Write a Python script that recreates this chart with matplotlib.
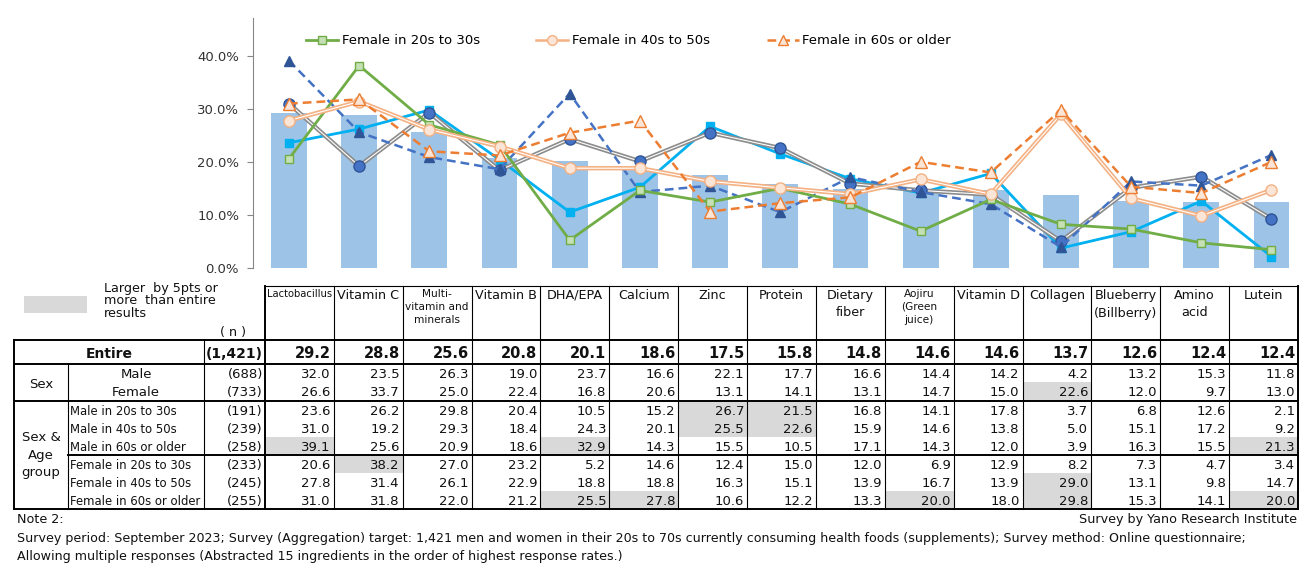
import matplotlib
matplotlib.use('Agg')
import matplotlib.pyplot as plt
from matplotlib.lines import Line2D
from matplotlib.patches import Rectangle
import matplotlib.patheffects as pe
import numpy as np

plt.rcParams['font.family'] = ['DejaVu Sans']

# ---------------- data ----------------
ingredients = ['Lactobacillus', 'Vitamin C', 'Multi-\nvitamin and\nminerals', 'Vitamin B',
               'DHA/EPA', 'Calcium', 'Zinc', 'Protein', 'Dietary\nfiber',
               'Aojiru\n(Green\njuice)', 'Vitamin D', 'Collagen', 'Blueberry\n(Billberry)',
               'Amino\nacid', 'Lutein']
entire = [29.2, 28.8, 25.6, 20.8, 20.1, 18.6, 17.5, 15.8, 14.8, 14.6, 14.6, 13.7, 12.6, 12.4, 12.4]
male = [32.0, 23.5, 26.3, 19.0, 23.7, 16.6, 22.1, 17.7, 16.6, 14.4, 14.2, 4.2, 13.2, 15.3, 11.8]
female = [26.6, 33.7, 25.0, 22.4, 16.8, 20.6, 13.1, 14.1, 13.1, 14.7, 15.0, 22.6, 12.0, 9.7, 13.0]
male_20s_30s = [23.6, 26.2, 29.8, 20.4, 10.5, 15.2, 26.7, 21.5, 16.8, 14.1, 17.8, 3.7, 6.8, 12.6, 2.1]
male_40s_50s = [31.0, 19.2, 29.3, 18.4, 24.3, 20.1, 25.5, 22.6, 15.9, 14.6, 13.8, 5.0, 15.1, 17.2, 9.2]
male_60s_plus = [39.1, 25.6, 20.9, 18.6, 32.9, 14.3, 15.5, 10.5, 17.1, 14.3, 12.0, 3.9, 16.3, 15.5, 21.3]
female_20s_30s = [20.6, 38.2, 27.0, 23.2, 5.2, 14.6, 12.4, 15.0, 12.0, 6.9, 12.9, 8.2, 7.3, 4.7, 3.4]
female_40s_50s = [27.8, 31.4, 26.1, 22.9, 18.8, 18.8, 16.3, 15.1, 13.9, 16.7, 13.9, 29.0, 13.1, 9.8, 14.7]
female_60s_plus = [31.0, 31.8, 22.0, 21.2, 25.5, 27.8, 10.6, 12.2, 13.3, 20.0, 18.0, 29.8, 15.3, 14.1, 20.0]
row_labels = ['Male', 'Female', 'Male in 20s to 30s', 'Male in 40s to 50s', 'Male in 60s or older',
              'Female in 20s to 30s', 'Female in 40s to 50s', 'Female in 60s or older']
sample_sizes = ['(688)', '(733)', '(191)', '(239)', '(258)', '(233)', '(245)', '(255)']
entire_n = '(1,421)'
yticks = [0, 10, 20, 30, 40]

# ---------------- figure ----------------
W, H = 1300, 563
fig = plt.figure(figsize=(W / 100, H / 100), dpi=100)

# overlay for the table (pixel coordinates)
tx = fig.add_axes([0, 0, 1, 1], zorder=0)
tx.set_xlim(0, W)
tx.set_ylim(H, 0)
tx.axis('off')

# chart axes
ax_l, ax_r, ax_b, ax_t = 253, 1300, 267.7, 18
ax = fig.add_axes([ax_l / W, 1 - ax_b / H, (ax_r - ax_l) / W, (ax_b - ax_t) / H], zorder=2)
ax.patch.set_alpha(0)
x = np.arange(len(entire))
ax.bar(x, np.array(entire) / 100, width=0.51, color='#9DC3E6', zorder=1)

ax.plot(x, np.array(male_20s_30s) / 100, color='#00B0F0', lw=2, marker='s', ms=6,
        mfc='#00B0F0', mec='#00B0F0', zorder=3)
ax.plot(x, np.array(male_40s_50s) / 100, color='white', lw=0.8, zorder=3,
        path_effects=[pe.Stroke(linewidth=3.2, foreground='#8C8C8C'), pe.Normal()])
ax.plot(x, np.array(male_40s_50s) / 100, ls='none', marker='o', ms=8,
        mfc='#4472C4', mec='#2F5597', zorder=3)
ax.plot(x, np.array(male_60s_plus) / 100, color='#4472C4', lw=1.8, ls=(0, (3.5, 2)),
        marker='^', ms=7, mfc='#2F5597', mec='#2F5597', zorder=3)
ax.plot(x, np.array(female_20s_30s) / 100, color='#70AD47', lw=2, marker='s', ms=6,
        mfc='#C5E0B4', mec='#70AD47', zorder=4)
ax.plot(x, np.array(female_40s_50s) / 100, color='white', lw=0.8, zorder=4,
        path_effects=[pe.Stroke(linewidth=3.2, foreground='#F4B183'), pe.Normal()])
ax.plot(x, np.array(female_40s_50s) / 100, ls='none', marker='o', ms=8,
        mfc='#FBE5D6', mec='#F4B183', zorder=4)
ax.plot(x, np.array(female_60s_plus) / 100, color='#ED7D31', lw=1.8, ls=(0, (3.5, 2)),
        marker='^', ms=8, mfc='#FBE5D6', mec='#ED7D31', zorder=4)

step = (1271.5 - 289) / 14
ax.set_xlim(-(289 - ax_l) / step, 14 + (ax_r - 1271.5) / step)
ax.set_ylim(0, (ax_b - ax_t) / (ax_b - 56) * 0.40)
ax.set_yticks([v / 100 for v in yticks])
ax.set_yticklabels([f'{v:.1f}%' for v in yticks], fontsize=9.5)
ax.set_xticks([])
for s in ['top', 'right', 'bottom']:
    ax.spines[s].set_visible(False)
ax.spines['left'].set_color('#868686')
ax.tick_params(axis='y', colors='#868686', length=4, labelcolor='#333333', pad=6)

# legend (female series only, as in the reference)
handles = [
    Line2D([], [], color='#70AD47', lw=2, marker='s', ms=6, mfc='#C5E0B4', mec='#70AD47'),
    Line2D([], [], color='#F4B183', lw=1.8, marker='o', ms=7, mfc='#FBE5D6', mec='#F4B183'),
    Line2D([], [], color='#ED7D31', lw=1.8, ls=(0, (3.5, 2)), marker='^', ms=7, mfc='#FBE5D6', mec='#ED7D31'),
]
labels = ['Female in 20s to 30s', 'Female in 40s to 50s', 'Female in 60s or older']
fig.legend(handles, labels, loc='center left', bbox_to_anchor=(306 / W, 1 - 41 / H),
           ncol=3, frameon=False, fontsize=9.5, handlelength=2.4, handletextpad=0.3,
           columnspacing=4.3, borderaxespad=0, borderpad=0)

# ---------------- table ----------------
X_L, X_SPLIT, X_NL, X_NR, X_R = 14, 68, 204, 265, 1298
col_w = (X_R - X_NR) / len(entire)
Y_HT, Y_HB, Y_EB, Y_SB, Y_MID, Y_BOT = 286, 340, 364, 401, 455, 509
row_h = 18
row_centers = [373, 391] + [Y_SB + 9 + row_h * k for k in range(3)] + [Y_MID + 9 + row_h * k for k in range(3)]
rows = [male, female, male_20s_30s, male_40s_50s, male_60s_plus,
        female_20s_30s, female_40s_50s, female_60s_plus]
txt = '#111111'
VA = 'center_baseline'

# shading
for r, vals in enumerate(rows):
    for c, v in enumerate(vals):
        if v - entire[c] >= 5:
            tx.add_patch(Rectangle((X_NR + c * col_w, row_centers[r] - row_h / 2), col_w, row_h,
                                   facecolor='#D9D9D9', edgecolor='none', zorder=1))

lwt, lwn = 1.4, 0.8
tx.plot([X_NR, X_R], [Y_HT, Y_HT], color='black', lw=lwn)
for y in [Y_HB, Y_EB, Y_SB, Y_BOT]:
    tx.plot([X_L, X_R], [y, y], color='black', lw=lwt)
tx.plot([X_SPLIT, X_R], [Y_MID, Y_MID], color='black', lw=lwt)
tx.plot([X_L, X_L], [Y_HB, Y_BOT], color='black', lw=lwt)
tx.plot([X_SPLIT, X_SPLIT], [Y_EB, Y_BOT], color='black', lw=lwn)
tx.plot([X_NL, X_NL], [Y_HB, Y_BOT], color='black', lw=lwn)
for k in range(len(entire) + 1):
    xx = X_NR + k * col_w
    tx.plot([xx, xx], [Y_HT, Y_BOT], color='black', lw=lwt if k in (0, len(entire)) else lwn)

# header labels
for c, name in enumerate(ingredients):
    cx = X_NR + (c + 0.5) * col_w
    if name == 'Lactobacillus':
        fs, ls = 7.2, 1.2
    elif name.startswith('Multi') or name.startswith('Aojiru'):
        fs, ls = 7.6, 1.35
    else:
        fs, ls = 9.2, 1.45
    tx.text(cx, 289, name, ha='center', va='top', fontsize=fs, color=txt, linespacing=ls)

tx.text(233, 331, '( n )', ha='center', va=VA, fontsize=9.2, color=txt)
tx.add_patch(Rectangle((24, 296), 63, 17, facecolor='#D9D9D9', edgecolor='none'))
tx.text(104, 301, 'Larger  by 5pts or\nmore  than entire\nresults', ha='left', va='center',
        fontsize=9.2, color=txt, linespacing=0.95)

# Entire row
yc = (Y_HB + Y_EB) / 2
tx.text((X_L + X_NL) / 2, yc, 'Entire', ha='center', va=VA, fontsize=10, fontweight='bold', color=txt)
tx.text(X_NR - 2, yc, entire_n, ha='right', va=VA, fontsize=10, fontweight='bold', color=txt)
for c, v in enumerate(entire):
    tx.text(X_NR + (c + 1) * col_w - 3, yc, f'{v:.1f}', ha='right', va=VA,
            fontsize=10.5, fontweight='bold', color=txt)

# group labels
tx.text((X_L + X_SPLIT) / 2, (Y_EB + Y_SB) / 2, 'Sex', ha='center', va=VA, fontsize=9.5, color=txt)
tx.text((X_L + X_SPLIT) / 2, Y_MID, 'Sex &\nAge\ngroup', ha='center', va='center', fontsize=9.5,
        color=txt, linespacing=1.45)

for r, vals in enumerate(rows):
    yc = row_centers[r]
    if r < 2:
        tx.text((X_SPLIT + X_NL) / 2, yc, row_labels[r], ha='center', va=VA, fontsize=9.5, color=txt)
    else:
        tx.text(X_SPLIT + 2, yc, row_labels[r], ha='left', va=VA, fontsize=8.4, color=txt)
    tx.text(X_NR - 2, yc, sample_sizes[r], ha='right', va=VA, fontsize=9.5, color=txt)
    for c, v in enumerate(vals):
        tx.text(X_NR + (c + 1) * col_w - 3, yc, f'{v:.1f}', ha='right', va=VA,
                fontsize=9.5, color=txt, zorder=3)

# notes
tx.text(17, 518, 'Note 2:', ha='left', va=VA, fontsize=9.2, color=txt)
tx.text(1297, 518, 'Survey by Yano Research Institute', ha='right', va=VA, fontsize=9.2, color=txt)
tx.text(17, 537, 'Survey period: September 2023; Survey (Aggregation) target: 1,421 men and women in their 20s to 70s '
        'currently consuming health foods (supplements); Survey method: Online questionnaire;',
        ha='left', va=VA, fontsize=9.1, color=txt)
tx.text(17, 555, 'Allowing multiple responses (Abstracted 15 ingredients in the order of highest response rates.)',
        ha='left', va=VA, fontsize=9.1, color=txt)

fig.savefig('out.png', dpi=100)
